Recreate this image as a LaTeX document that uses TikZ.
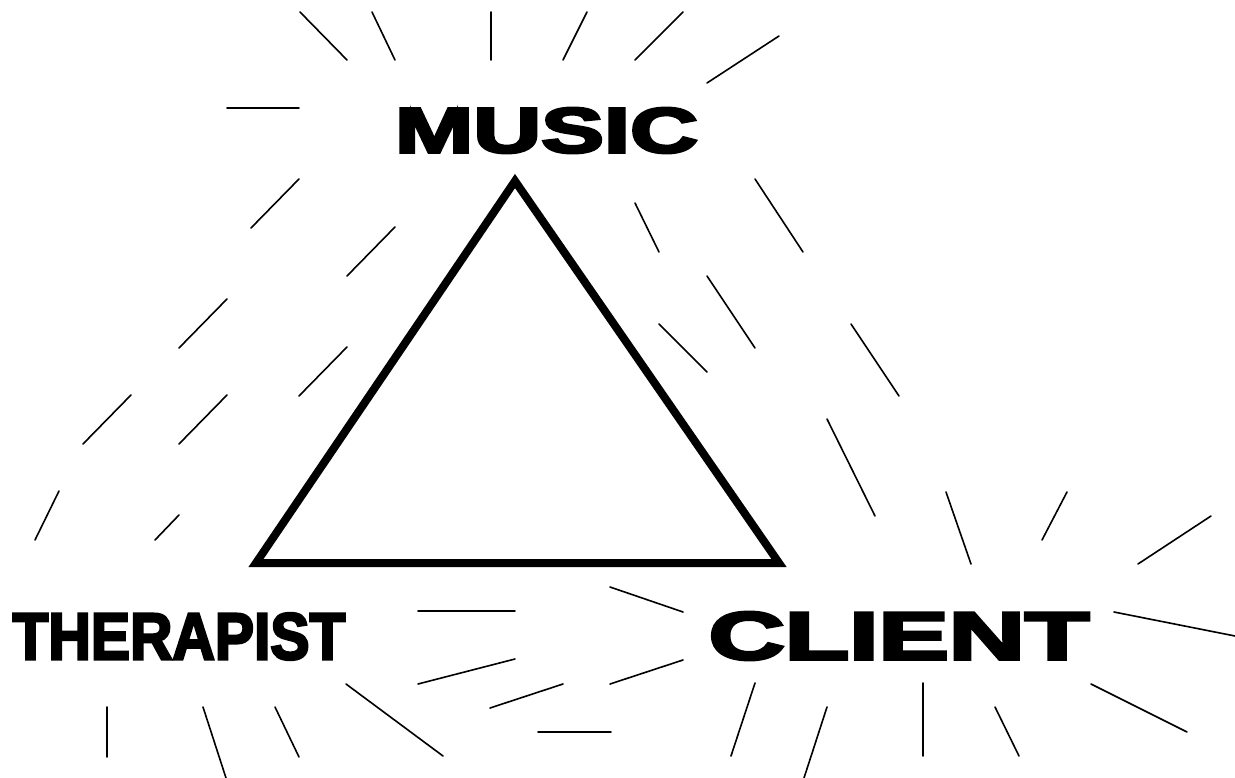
\documentclass[tikz,border=0pt]{standalone}
\usepackage{fontspec}
\newfontfamily\heavyfont{Liberation Sans}[UprightFont={* Bold}, UprightFeatures={FakeBold=4}]

\begin{document}
\begin{tikzpicture}[x=1pt,y=-1pt,
    ray/.style={line width=1.6, line cap=round},
    word/.style={inner sep=0, font=\heavyfont}]
\useasboundingbox (0,0) rectangle (1235,778);

%Triangle
\draw [line width=8, line join=miter] (515,181) -- (779,563) -- (256,563) -- cycle ;

%Rays round MUSIC
\draw [ray] (300,12) -- (347,60) ;
\draw [ray] (372,12) -- (395,60) ;
\draw [ray] (491,12) -- (491,60) ;
\draw [ray] (587,12) -- (563,60) ;
\draw [ray] (683,12) -- (635,60) ;
\draw [ray] (779,36) -- (707,83) ;
\draw [ray] (227,108) -- (299,108) ;

%Rays on the left
\draw [ray] (299,179) -- (251,228) ;
\draw [ray] (395,227) -- (347,276) ;
\draw [ray] (227,299) -- (179,348) ;
\draw [ray] (347,347) -- (299,396) ;
\draw [ray] (131,395) -- (83,444) ;
\draw [ray] (227,395) -- (179,444) ;
\draw [ray] (59,491) -- (35,540) ;
\draw [ray] (179,515) -- (155,540) ;

%Rays on the right
\draw [ray] (635,203) -- (659,252) ;
\draw [ray] (755,179) -- (803,252) ;
\draw [ray] (707,276) -- (755,348) ;
\draw [ray] (659,324) -- (707,372) ;
\draw [ray] (851,324) -- (899,396) ;
\draw [ray] (827,419) -- (875,516) ;

%Rays round CLIENT
\draw [ray] (946,492) -- (971,564) ;
\draw [ray] (1067,492) -- (1042,540) ;
\draw [ray] (1211,516) -- (1138,564) ;
\draw [ray] (610,587) -- (683,612) ;
\draw [ray] (610,684) -- (683,660) ;
\draw [ray] (1114,612) -- (1235,636) ;
\draw [ray] (755,683) -- (731,756) ;
\draw [ray] (827,707) -- (804,778) ;
\draw [ray] (923,683) -- (923,756) ;
\draw [ray] (995,707) -- (1019,756) ;
\draw [ray] (1091,684) -- (1187,732) ;

%Rays round THERAPIST
\draw [ray] (418,611) -- (515,611) ;
\draw [ray] (418,684) -- (515,659) ;
\draw [ray] (490,708) -- (563,684) ;
\draw [ray] (538,732) -- (611,732) ;
\draw [ray] (346,684) -- (443,756) ;
\draw [ray] (107,707) -- (107,757) ;
\draw [ray] (203,707) -- (226,778) ;
\draw [ray] (275,707) -- (299,757) ;

% Text Node
\node [word] (music) at (546.5,130.5) {\fontsize{64}{64}\selectfont\scalebox{1.47}[1]{MUSIC}};
% Text Node
\node [word] (client) at (899,636) {\fontsize{68}{68}\selectfont\scalebox{1.55}[1]{CLIENT}};
% Text Node
\node [word] (therapist) at (179,636.5) {\fontsize{66}{66}\selectfont\scalebox{0.89}[1]{THERAPIST}};

\end{tikzpicture}
\end{document}
